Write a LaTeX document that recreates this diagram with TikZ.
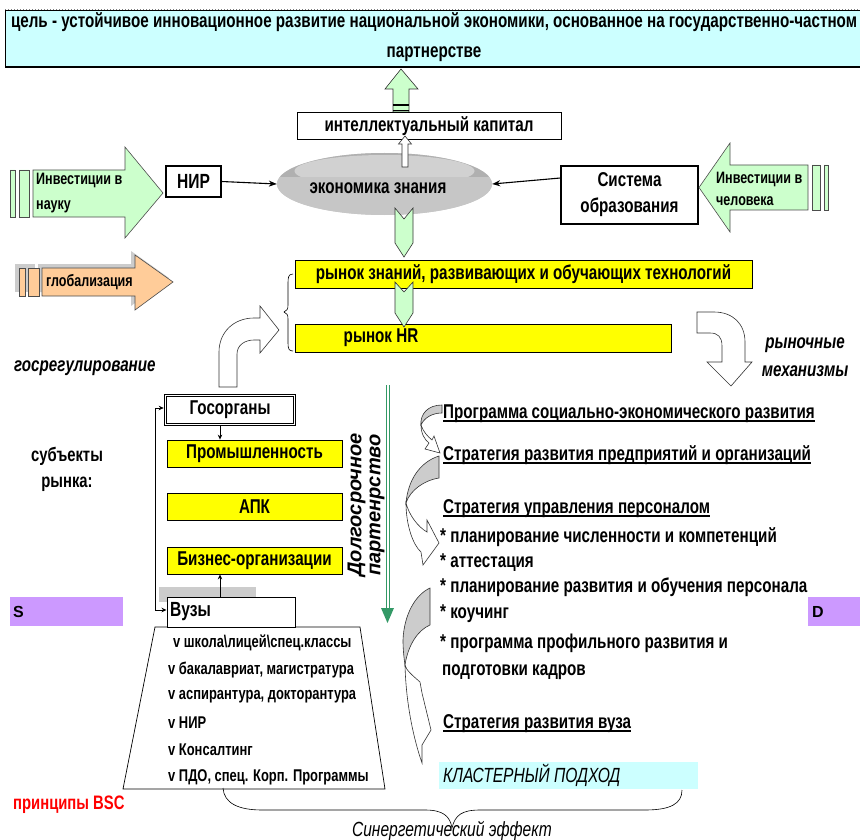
\documentclass[tikz,border=0pt]{standalone}
\usepackage{fontspec}
\setmainfont{Liberation Sans}
\newfontfamily\nf[FakeStretch=0.76]{Liberation Sans}
\usetikzlibrary{shapes.geometric,arrows.meta,calc}
\definecolor{cyanbg}{HTML}{CCFFFF}
\definecolor{lgreen}{HTML}{CCFFCC}
\definecolor{peach}{HTML}{FFCC99}
\definecolor{yel}{HTML}{FFFF00}
\definecolor{purp}{HTML}{CC99FF}
\definecolor{dgreen}{HTML}{339966}
\newcommand\myul[1]{\setbox0\hbox{#1}\rlap{\rule[-3.6pt]{\wd0}{1.3pt}}\box0}
\tikzset{
  tb/.style={inner sep=0pt, font=\nf\bfseries\fontsize{20}{22}\selectfont},
  tbi/.style={inner sep=0pt, font=\nf\bfseries\itshape\fontsize{20}{28}\selectfont},
  boxw/.style={draw=black, line width=1.2pt, fill=white, inner sep=0pt},
  boxy/.style={draw=black, line width=0.8pt, fill=yel, inner sep=0pt},
  blk/.style={draw=black!80, line width=0.6pt},
  conn/.style={line width=1.1pt, -{Stealth[length=8pt,width=6pt]}},
  smallarr/.style={line width=0.8pt, -{Stealth[length=5pt,width=4.5pt]}},
  inv/.style={inner sep=0pt, font=\nf\bfseries\fontsize{16.5}{25}\selectfont},
  vl/.style={inner sep=0pt, font=\nf\bfseries\fontsize{17}{19}\selectfont, anchor=west},
  rl/.style={inner sep=0pt, font=\nf\bfseries\fontsize{20}{22}\selectfont, anchor=base west},
}
\begin{document}
\begin{tikzpicture}[x=1pt,y=-1pt]
\useasboundingbox (0,0) rectangle (860,840);
\fill[white] (0,0) rectangle (860,840);

% ---------- title
\node[draw=black, line width=0.8pt, fill=cyanbg, minimum width=857pt, minimum height=56pt, inner sep=0pt, anchor=north west] (goal) at (5,10) {};
\draw[white, line width=1pt] (goal.north west) -- (goal.north east);
\draw[gray, dotted, line width=1pt] (goal.north west) -- (goal.north east);
\draw[line width=2pt] (goal.south west) -- (goal.south east);
\node[inner sep=0pt, align=center, font=\nf\bfseries\fontsize{20}{30}\selectfont] (goalt) at (434,37.5) {цель - устойчивое инновационное развитие национальной экономики, основанное на государственно-частном\\партнерстве};

% ---------- top green arrow
\filldraw[fill=lgreen, blk] (393,112) -- (393,89) -- (385,89) -- (401,69) -- (418,89) -- (409,89) -- (409,112) -- cycle;
\draw[line width=1.6pt] (393,105) -- (409,105) (393,110.5) -- (409,110.5);

% ---------- intellectual capital
\node[boxw, line width=1pt, minimum width=264pt, minimum height=27pt, tb] (ic) at (429,126.5) {интеллектуальный капитал};

% ---------- ellipse
\node[ellipse, fill=gray!45, minimum width=215pt, minimum height=62pt, inner sep=0pt] (eco) at (384.5,184) {};
\begin{scope}
\clip (384.5,184) ellipse [x radius=107.5pt, y radius=31pt];
\fill[gray!62] (270,150) rectangle (500,177);
\fill[gray!36] (384.5,171) ellipse [x radius=90pt, y radius=16pt];
\fill[gray!45] (270,177) rectangle (500,220);
\end{scope}
\node[tb] (ecot) at (378,188) {экономика знания};

% small white arrow eco -> ic
\filldraw[fill=white, blk] (402,167) -- (402,144) -- (398.5,144) -- (405,136) -- (411.5,144) -- (408,144) -- (408,167) -- cycle;

% ---------- NIR and system
\node[boxw, minimum width=55pt, minimum height=31pt, font=\nf\bfseries\fontsize{20.5}{22}\selectfont] (nir) at (193.5,181.5) {НИР};
\node[boxw, minimum width=137pt, minimum height=58pt, align=center, font=\nf\bfseries\fontsize{20}{26}\selectfont] (sys) at (629.5,195) {Система\\образования};
\draw[conn] (nir.east) -- (eco.west);
\draw[conn] ([yshift=17pt]sys.west) -- (eco.east);

% ---------- investment arrows
\filldraw[fill=lgreen, draw=black!70, line width=0.6pt] (33,170) -- (125,170) -- (125,147) -- (163,193) -- (125,238) -- (125,217) -- (33,217) -- cycle;
\filldraw[fill=lgreen, draw=black!70, line width=0.6pt] (10,170) rectangle (15,217) (19,170) rectangle (29,217);
\node[inv, anchor=west, align=left] (invl) at (36,193.5) {Инвестиции в\\науку};

\filldraw[fill=lgreen, draw=black!70, line width=0.6pt] (808,165) -- (730,165) -- (730,143) -- (699,187.5) -- (730,232) -- (730,210) -- (808,210) -- cycle;
\filldraw[fill=lgreen, draw=black!70, line width=0.6pt] (812,165) rectangle (820,210) (824,165) rectangle (828,210);
\node[inv, anchor=west, align=left, font=\nf\bfseries\fontsize{16.5}{22}\selectfont] (invr) at (716,189) {Инвестиции в\\человека};

% ---------- globalization
\fill[gray!40] (38,264) -- (131,264) -- (131,251) -- (169,278) -- (131,306) -- (131,292) -- (38,292) -- cycle;
\fill[gray!40] (15,264) rectangle (35,292);
\filldraw[fill=peach, draw=black!70, line width=0.6pt] (42,268) -- (135,268) -- (135,255) -- (173,282) -- (135,310) -- (135,296) -- (42,296) -- cycle;
\filldraw[fill=peach, draw=black!70, line width=0.6pt] (19,268) rectangle (25,296) (28,268) rectangle (39,296);
\node[inner sep=0pt, anchor=west, font=\nf\bfseries\fontsize{16.5}{18}\selectfont] (glob) at (46,282) {глобализация};

% ---------- markets
\filldraw[fill=lgreen, blk] (395,208) -- (404,219) -- (413,208) -- (413,243) -- (404,257) -- (395,243) -- cycle;
\node[boxy, minimum width=457pt, minimum height=28pt, tb] (ry1) at (523.5,274) {рынок знаний, развивающих и обучающих технологий};
\node[boxy, minimum width=376pt, minimum height=28pt] (ry2) at (483,338) {};
\node[tb] (ry2t) at (381,338) {рынок HR};
\filldraw[fill=lgreen, blk] (395,282) -- (404,292) -- (413,282) -- (413,313) -- (404,327) -- (395,313) -- cycle;

% brace left of markets
\draw[line width=0.6pt] (293,274) .. controls (288,274) and (288,278) .. (288,284) -- (288,305) .. controls (288,309) and (287,311) .. (284,312) .. controls (287,313) and (288,315) .. (288,319) -- (288,343) .. controls (288,349) and (289,351) .. (293,351);

% bent arrows
\filldraw[fill=white, draw=black!80, line width=0.6pt] (219,387) -- (219,352) .. controls (219,332) and (234,318) .. (254,318) -- (260,318) -- (260,306) -- (279,330) -- (260,353) -- (260,340) -- (254,340) .. controls (245,340) and (237,345) .. (237,354) -- (237,387) -- cycle;
\filldraw[fill=white, draw=black!80, line width=0.6pt] (697,312) -- (714,312) .. controls (733,312) and (745,324) .. (745,342) -- (745,362) -- (752,362) -- (731,386) -- (707,362) -- (722,362) -- (722,346) .. controls (722,337) and (718,333) .. (710,333) -- (697,333) -- cycle;

% labels
\node[tbi, align=center] (mech) at (805,357) {рыночные\\механизмы};
\node[tbi, anchor=west] (gosreg) at (14,368) {госрегулирование};
\node[tb, align=center, font=\nf\bfseries\fontsize{19.5}{26}\selectfont] (subj) at (67,469) {субъекты\\рынка:};

% ---------- left group
\fill[gray!40] (159,587) rectangle (256,602);
\node[draw=black, line width=1.6pt, fill=white, minimum width=131pt, minimum height=31pt, tb] (gos) at (230,410) {Госорганы};
\draw[line width=0.6pt] ([shift={(3pt,-3pt)}]gos.north west) rectangle ([shift={(-3pt,3pt)}]gos.south east);
\node[boxy, tb, minimum width=175pt, minimum height=27pt] (prom) at (254.5,453.5) {Промышленность};
\node[boxy, tb, minimum width=175pt, minimum height=27pt] (apk) at (254.5,506.5) {АПК};
\node[boxy, tb, minimum width=175pt, minimum height=27pt] (biz) at (254.5,560.5) {Бизнес-организации};

\filldraw[fill=white, draw=black, line width=0.7pt] (155,627) -- (360,627) -- (385,789) -- (123,789) -- cycle;
\node[boxw, line width=1pt, minimum width=128pt, minimum height=30pt] (vuz) at (231,612) {};
\node[tb, anchor=west, font=\nf\bfseries\fontsize{20.5}{22}\selectfont] (vuzt) at (170,612) {Вузы};

\draw[smallarr] ([xshift=-10pt]gos.south) -- ([xshift=-10pt]gos.south |- prom.north);
\draw[smallarr] ([xshift=-11pt]vuz.north) -- ([xshift=-11pt]vuz.north |- biz.south);
\draw[smallarr, {Stealth[length=5pt,width=4.5pt]}-{Stealth[length=5pt,width=4.5pt]}] ([yshift=2pt]vuz.west) -- ++(-11,0) |- ([yshift=2pt]gos.west);

\node[vl] (v1) at (173,643) {v школа\textbackslash лицей\textbackslash спец.классы};
\node[vl] (v2) at (168,670) {v бакалавриат, магистратура};
\node[vl] (v3) at (168,697) {v аспирантура, докторантура};
\node[vl] (v4) at (168,723) {v НИР};
\node[vl] (v5) at (168,750) {v Консалтинг};
\node[vl] (v6) at (168,777) {v ПДО, спец. Корп. Программы};

% ---------- green vertical arrow
\coordinate (gtop) at (387.5,385);
\coordinate (gbot) at (387.5,608);
\draw[dgreen, line width=0.8pt] ([xshift=-1.6pt]gtop) -- ([xshift=-1.6pt]gbot) ([xshift=1.6pt]gtop) -- ([xshift=1.6pt]gbot);
\fill[dgreen] ([xshift=-6.5pt]gbot) -- ([xshift=6.5pt]gbot) -- ([yshift=-15pt]gbot) -- cycle;
\node[rotate=90, align=center, inner sep=0pt, font=\bfseries\itshape\fontsize{20}{19}\selectfont] (dolg) at (366,505) {Долгосрочное\\партенрство};

% ---------- curved arrows right
\filldraw[fill=white, blk] (421,425) .. controls (421,434) and (425,440) .. (429,443) -- (425,449) -- (440,453) -- (434,436) -- (432,440) .. controls (427,436) and (423,431) .. (421,425) -- cycle;
\filldraw[fill=gray!40, blk] (442,405) .. controls (428,405) and (420,414) .. (421,425) .. controls (424,418) and (432,413) .. (442,413) -- cycle;

\filldraw[fill=white, blk] (406,503) .. controls (406,525) and (413,545) .. (421,552) -- (423,565) -- (439,543) -- (427,520) -- (427,532) .. controls (418,527) and (409,515) .. (406,503) -- cycle;
\filldraw[fill=gray!40, blk] (439,456) .. controls (420,462) and (408,480) .. (406,503) .. controls (410,490) and (425,480) .. (439,478) -- cycle;

\filldraw[fill=white, blk] (405,665) .. controls (406,705) and (414,740) .. (422,763) -- (422,745) -- (431,730) -- (422,693) -- (420,682) .. controls (412,675) and (406,670) .. (405,665) -- cycle;
\filldraw[fill=gray!40, blk] (430,588) .. controls (415,595) and (404,615) .. (403,640) .. controls (403,650) and (404,658) .. (405,665) .. controls (408,645) and (418,630) .. (430,625) -- cycle;

% ---------- right list
\node[rl] (r1) at (443,418) {\myul{Программа социально-экономического развития}};
\node[rl] (r2) at (443,460) {\myul{Стратегия развития предприятий и организаций}};
\node[rl] (r3) at (443,513) {\myul{Стратегия управления персоналом}};
\node[rl] (r4) at (440,542) {* планирование численности и компетенций};
\node[rl] (r5) at (440,567) {* аттестация};
\node[rl] (r6) at (440,592) {* планирование развития и обучения персонала};
\node[rl] (r7) at (440,618) {* коучинг};
\node[rl] (r8) at (440,648) {* программа профильного развития и};
\node[rl] (r9) at (442,675) {подготовки кадров};
\node[rl] (r10) at (443,728) {\myul{Стратегия развития вуза}};
\node[fill=cyanbg, minimum width=259pt, minimum height=27pt, inner sep=0pt, anchor=north west] (clbox) at (439,762) {};
\node[inner sep=0pt, anchor=base west, font=\nf\itshape\fontsize{20.5}{22}\selectfont] (cl) at (443,782) {КЛАСТЕРНЫЙ ПОДХОД};

% ---------- S / D
\node[fill=purp, minimum width=113pt, minimum height=29pt, inner sep=0pt, anchor=north west] (sbox) at (10,597) {};
\node[inner sep=0pt, anchor=west, font=\bfseries\fontsize{16}{18}\selectfont] (st) at (13,612) {S};
\node[fill=purp, minimum width=54pt, minimum height=29pt, inner sep=0pt, anchor=north west] (dbox) at (808,597) {};
\node[inner sep=0pt, anchor=west, font=\bfseries\fontsize{16}{18}\selectfont] (dt) at (812,612) {D};

\node[rl, red, font=\nf\bfseries\fontsize{19.5}{22}\selectfont] (bsc) at (13,809) {принципы BSC};

% ---------- bottom brace
\draw[line width=0.6pt] (223,788) .. controls (224,803) and (238,810) .. (262,810) -- (425,810) .. controls (443,810) and (450,816) .. (452,828) .. controls (455,815) and (462,810) .. (480,810) -- (645,810) .. controls (670,810) and (682,804) .. (682,790);
\node[inner sep=0pt, anchor=base, font=\nf\itshape\fontsize{20.5}{22}\selectfont] (syn) at (452,836) {Синергетический эффект};
\end{tikzpicture}
\end{document}
